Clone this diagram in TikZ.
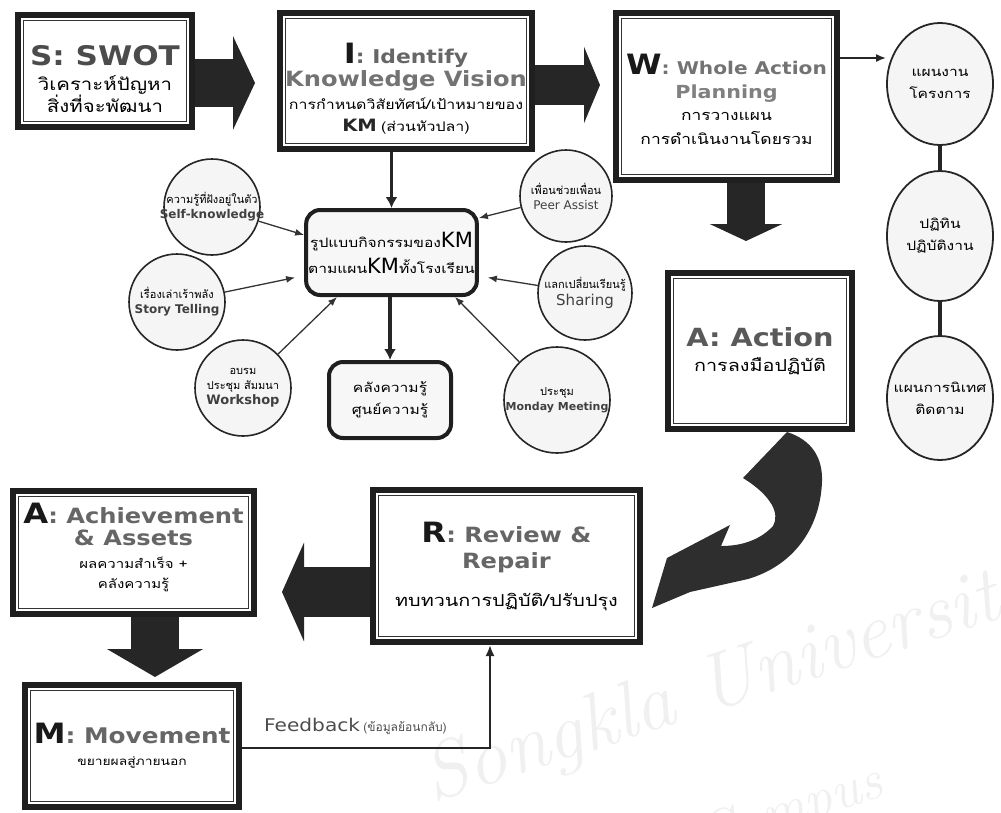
\documentclass[tikz,border=0pt]{standalone}
\usepackage{fontspec}
\usetikzlibrary{arrows.meta,shapes.geometric,calc}
\newfontfamily\dvs{DejaVu Sans}
\newfontfamily\dvw[FakeStretch=1.15]{DejaVu Sans}
\newfontfamily\thaifont[Script=Thai]{Loma}
\newfontfamily\thaiwide[Script=Thai,FakeStretch=1.2]{Loma}
% text helpers
\newcommand\thw[2]{{\thaiwide\fontsize{#1}{#1}\selectfont #2}}
\newcommand\ths[1]{{\thaifont\fontsize{11}{12}\selectfont #1}}
\newcommand\thm[1]{{\thaiwide\fontsize{13}{14}\selectfont #1}}
\newcommand\initial[1]{{\dvw\bfseries\fontsize{28}{30}\selectfont\color{black!90}#1}}
\newcommand\ttl[2]{{\dvw\bfseries\fontsize{#1}{#1}\selectfont\color{black!60}#2}}
\newcommand\bubname[2]{{\dvs\bfseries\fontsize{#1}{#1}\selectfont\color{black!75}#2}}
\newcommand\innerline[1]{\draw[black!80, line width=0.9pt] ([shift={(8.5,8.5)}]#1.north west) rectangle ([shift={(-8.5,-8.5)}]#1.south east);}
\begin{document}
\begin{tikzpicture}[x=1pt,y=-1pt,
  box/.style={draw=black!88, line width=6pt, fill=white, align=center, inner sep=2pt},
  rbox/.style={draw=black!88, line width=4pt, rounded corners=14pt, fill=black!3, align=center, inner sep=2pt, font=\fontsize{13}{26}\selectfont},
  bub/.style={circle, draw=black!85, line width=1.6pt, fill=black!4, inner sep=0pt, align=center, font=\fontsize{11}{15}\selectfont},
  oval/.style={ellipse, draw=black!85, line width=1.8pt, fill=black!4, inner sep=0pt, align=center, minimum width=106pt, font=\fontsize{13}{22}\selectfont},
  blk/.style={draw=black!85, line cap=butt},
  spoke/.style={draw=black!80, line width=1.3pt, -{Latex[length=9pt,width=7pt]}},
  stem/.style={draw=black!85, line width=3.5pt, -{Latex[length=11pt,width=12pt]}}
]
\useasboundingbox (0,0) rectangle (1001,812);

% watermark
\node[rotate=18, text=black!6, font=\rmfamily\itshape\fontsize{80}{80}\selectfont] (wm1) at (730,685) {Songkla University};
\node[rotate=18, text=black!6, font=\rmfamily\itshape\fontsize{56}{56}\selectfont] (wm2) at (790,812) {Campus};

% main process boxes
\node[box, minimum width=174pt, minimum height=112pt, font=\fontsize{13}{19}\selectfont] (s) at (105,71)
  {\rule{0pt}{36pt}{\dvw\bfseries\fontsize{27}{30}\selectfont\color{black!70}S: SWOT}\\[6pt]\thw{17}{วิเคราะห์ปัญหา}\\\thw{17}{สิ่งที่จะพัฒนา}};
\node[box, minimum width=252pt, minimum height=136pt, font=\fontsize{13}{22.5}\selectfont] (i) at (406,81)
  {\rule{0pt}{36pt}\initial{I}\ttl{19}{: Identify}\\[1pt]{\dvw\bfseries\fontsize{21}{25}\selectfont\color{black!55}Knowledge Vision}\\\thw{13.3}{การกำหนดวิสัยทัศน์/เป้าหมายของ}\\{\dvw\bfseries\fontsize{17}{20}\selectfont\color{black!85}KM} \thw{13.3}{(ส่วนหัวปลา)}};
\node[box, minimum width=221pt, minimum height=167pt, font=\fontsize{13}{22}\selectfont] (w) at (726.5,96.5)
  {\rule{0pt}{26pt}\initial{W}{\dvw\bfseries\fontsize{17.5}{20}\selectfont\color{black!55}: Whole Action}\\[2pt]{\dvw\bfseries\fontsize{18}{22}\selectfont\color{black!50}Planning}\\\thw{14.5}{การวางแผน}\\[2pt]\thw{14.5}{การดำเนินงานโดยรวม}};
\node[box, minimum width=184pt, minimum height=156pt, font=\fontsize{13}{25}\selectfont] (act) at (760,351)
  {{\dvw\bfseries\fontsize{25}{28}\selectfont\color{black!65}A: Action}\\\thw{16.5}{การลงมือปฏิบัติ}};
\node[box, minimum width=267pt, minimum height=152pt, font=\fontsize{13}{26}\selectfont] (r) at (506.5,566)
  {\initial{R}\ttl{21}{: Review \&}\\\ttl{21}{Repair}\\[12pt]\thw{16.5}{ทบทวนการปฏิบัติ/ปรับปรุง}};
\node[box, minimum width=241pt, minimum height=123pt, font=\fontsize{13}{22}\selectfont] (ach) at (133.5,552.5)
  {\initial{A}\ttl{21}{: Achievement}\\\ttl{21}{\& Assets}\\[1pt]\thw{12.5}{ผลความสำเร็จ +}\\[-2pt]\thw{12.5}{คลังความรู้}\rule[-14pt]{0pt}{0pt}};
\node[box, minimum width=214pt, minimum height=122pt, font=\fontsize{13}{22}\selectfont] (m) at (132,746)
  {\initial{M}{\dvw\bfseries\fontsize{21.5}{25}\selectfont\color{black!60}: Movement}\\\thw{11.5}{ขยายผลสู่ภายนอก}};
\foreach \b in {s,i,w,act,r,ach,m} {\innerline{\b}}

% KM activity hub
\node[rbox, minimum width=169pt, minimum height=85pt] (c) at (391.5,252.5)
  {\thw{13}{รูปแบบกิจกรรมของ}{\dvs\fontsize{21}{22}\selectfont KM}\\\thw{13}{ตามแผน}{\dvs\fontsize{21}{22}\selectfont KM}\thw{13}{ทั้งโรงเรียน}};
\node[rbox, minimum width=122pt, minimum height=76pt, font=\fontsize{13}{22}\selectfont] (kb) at (390,400)
  {\thw{13}{คลังความรู้}\\\thw{13}{ศูนย์ความรู้}};

% KM tools
\node[bub, minimum size=96pt] (sk) at (212,207) {\ths{ความรู้ที่ฝังอยู่ในตัว}\\\makebox[0pt]{\bubname{12}{Self-knowledge}}};
\node[bub, minimum size=96pt] (st) at (177,302) {\ths{เรื่องเล่าเร้าพลัง}\\\bubname{12}{Story Telling}};
\node[bub, minimum size=96pt] (ws) at (243,388) {\ths{อบรม}\\\ths{ประชุม สัมมนา}\\\bubname{13}{Workshop}};
\node[bub, minimum size=92pt] (pa) at (566,196) {\ths{เพื่อนช่วยเพื่อน}\\{\dvs\fontsize{12}{14}\selectfont\color{black!75}Peer Assist}};
\node[bub, minimum size=94pt] (sh) at (585,293) {\ths{แลกเปลี่ยนเรียนรู้}\\[2pt]{\dvs\fontsize{15}{16}\selectfont\color{black!75}Sharing}};
\node[bub, minimum size=106pt] (mm) at (557,400) {\ths{ประชุม}\\\makebox[0pt]{\bubname{11}{Monday Meeting}}};

% planning outputs
\node[oval, minimum height=122pt] (e1) at (940,84) {\thm{แผนงาน}\\\thm{โครงการ}};
\node[oval, minimum height=130pt] (e2) at (940,236) {\thm{ปฏิทิน}\\\thm{ปฏิบัติงาน}};
\node[oval, minimum height=124pt] (e3) at (940,398) {\makebox[0pt]{\thm{แผนการนิเทศ}}\\\thm{ติดตาม}};
\draw[black!85, line width=4pt] (e1) -- (e2);
\draw[black!85, line width=4pt] (e2) -- (e3);
\draw[black!85, line width=1.8pt, -{Latex[length=10pt,width=8pt]}] (w.east |- 0,58) -- (e1.west |- 0,58);

% block arrows of the main cycle
\draw[blk, line width=48pt, shorten >=22pt, -{Triangle[length=22pt,width=93pt]}] (s.east |- 0,83) -- (i.west |- 0,83);
\draw[blk, line width=40pt, shorten >=13pt, -{Triangle[length=16pt,width=76pt]}] (i.east |- 0,85) -- (w.west |- 0,85);
\draw[blk, line width=38pt, shorten >=29pt, -{Triangle[length=17pt,width=72pt]}] (w.south -| 746,0) -- (act.north -| 746,0);
\draw[blk, line width=50pt, shorten >=25pt, -{Triangle[length=22pt,width=98pt]}] (r.west |- 0,592) -- (ach.east |- 0,592);
\draw[blk, line width=48pt, shorten >=5pt, -{Triangle[length=28pt,width=95pt]}] (ach.south -| 155,0) -- (m.north -| 155,0);

% curved arrow from Action down to Review & Repair
\fill[black!82] (743,478) -- (787,432)
  .. controls (812,440) and (823,458) .. (822,482)
  .. controls (820,530) and (792,566) .. (748,579)
  -- (690,592) -- (652,608) -- (667,558) -- (730,525) -- (721,546)
  .. controls (745,546) and (762,538) .. (773,526)
  .. controls (780,514) and (772,496) .. cycle;

% vertical links through the hub
\draw[stem] (i.south -| c.north) -- (c.north);
\draw[stem] (c.south -| kb.north) -- (kb.north);

% tools feeding the hub
\draw[spoke] (sk) -- (c.west |- 0,235);
\draw[spoke] (st) -- ($(c.west)+(-9,25)$);
\draw[spoke] (ws) -- (c.south -| 337,0);
\draw[spoke] (pa) -- (c.east |- 0,218);
\draw[spoke] (sh) -- ($(c.east)+(9,25)$);
\draw[spoke] (mm) -- (c.south -| 455,0);

% feedback loop
\draw[black!85, line width=2pt, -{Latex[length=11pt,width=9pt]}] (m.east |- 0,748) -| (r.south -| 490,0);
\node[anchor=south west, inner sep=2pt, text=black!70] (fb) at (262,737)
  {{\dvw\fontsize{17.5}{19}\selectfont Feedback} {\thaifont\fontsize{12}{14}\selectfont (ข้อมูลย้อนกลับ)}};
\end{tikzpicture}
\end{document}
